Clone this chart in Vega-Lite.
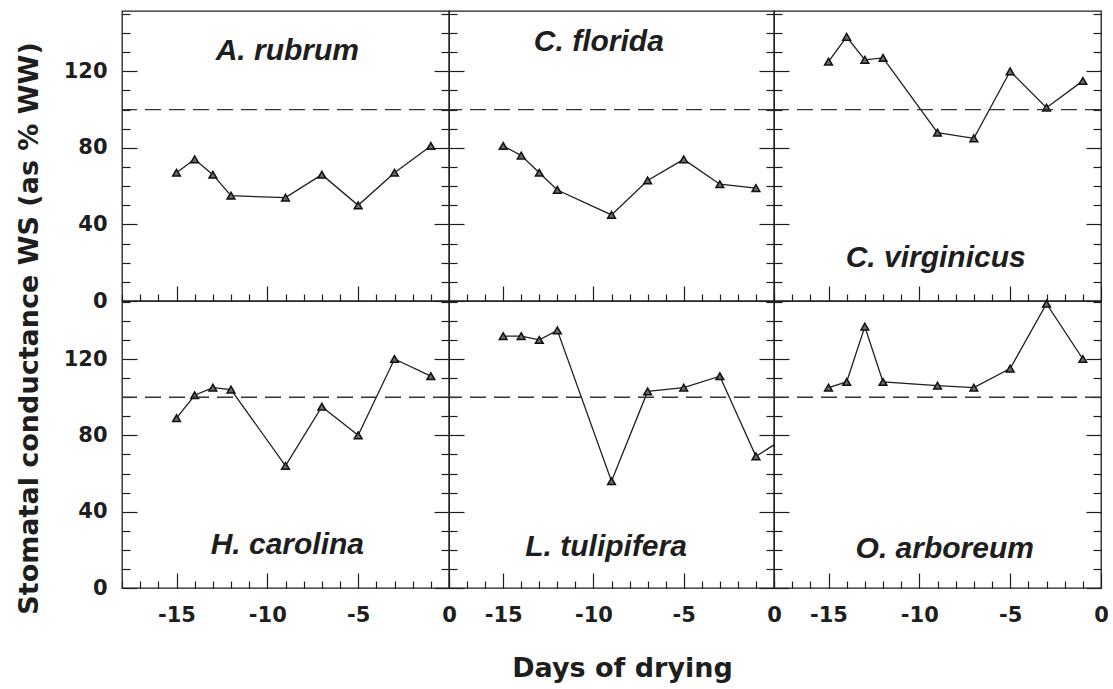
{
  "$schema": "https://vega.github.io/schema/vega-lite/v6.json",
  "padding": {"left": 14, "top": 2, "right": 8, "bottom": 6},
  "background": "white",
  "config": {
    "view": {"stroke": "#1e1e1e", "strokeWidth": 1.3},
    "axis": {
      "domain": false,
      "grid": false,
      "tickColor": "#1e1e1e",
      "tickWidth": 1.2,
      "labelFont": "DejaVu Sans",
      "labelFontSize": 21,
      "labelFontWeight": "bold",
      "labelColor": "#1e1e1e",
      "labelFlush": false,
      "labelOverlap": false,
      "titleFont": "DejaVu Sans",
      "titleFontSize": 27,
      "titleFontWeight": "bold",
      "titleColor": "#1e1e1e"
    }
  },
  "datasets": {
    "conductance": [
      {"species": "A. rubrum", "day": -15, "value": 67},
      {"species": "A. rubrum", "day": -14, "value": 74},
      {"species": "A. rubrum", "day": -13, "value": 66},
      {"species": "A. rubrum", "day": -12, "value": 55},
      {"species": "A. rubrum", "day": -9, "value": 54},
      {"species": "A. rubrum", "day": -7, "value": 66},
      {"species": "A. rubrum", "day": -5, "value": 50},
      {"species": "A. rubrum", "day": -3, "value": 67},
      {"species": "A. rubrum", "day": -1, "value": 81},
      {"species": "C. florida", "day": -15, "value": 81},
      {"species": "C. florida", "day": -14, "value": 76},
      {"species": "C. florida", "day": -13, "value": 67},
      {"species": "C. florida", "day": -12, "value": 58},
      {"species": "C. florida", "day": -9, "value": 45},
      {"species": "C. florida", "day": -7, "value": 63},
      {"species": "C. florida", "day": -5, "value": 74},
      {"species": "C. florida", "day": -3, "value": 61},
      {"species": "C. florida", "day": -1, "value": 59},
      {"species": "C. virginicus", "day": -15, "value": 125},
      {"species": "C. virginicus", "day": -14, "value": 138},
      {"species": "C. virginicus", "day": -13, "value": 126},
      {"species": "C. virginicus", "day": -12, "value": 127},
      {"species": "C. virginicus", "day": -9, "value": 88},
      {"species": "C. virginicus", "day": -7, "value": 85},
      {"species": "C. virginicus", "day": -5, "value": 120},
      {"species": "C. virginicus", "day": -3, "value": 101},
      {"species": "C. virginicus", "day": -1, "value": 115},
      {"species": "H. carolina", "day": -15, "value": 89},
      {"species": "H. carolina", "day": -14, "value": 101},
      {"species": "H. carolina", "day": -13, "value": 105},
      {"species": "H. carolina", "day": -12, "value": 104},
      {"species": "H. carolina", "day": -9, "value": 64},
      {"species": "H. carolina", "day": -7, "value": 95},
      {"species": "H. carolina", "day": -5, "value": 80},
      {"species": "H. carolina", "day": -3, "value": 120},
      {"species": "H. carolina", "day": -1, "value": 111},
      {"species": "L. tulipifera", "day": -15, "value": 132},
      {"species": "L. tulipifera", "day": -14, "value": 132},
      {"species": "L. tulipifera", "day": -13, "value": 130},
      {"species": "L. tulipifera", "day": -12, "value": 135},
      {"species": "L. tulipifera", "day": -9, "value": 56},
      {"species": "L. tulipifera", "day": -7, "value": 103},
      {"species": "L. tulipifera", "day": -5, "value": 105},
      {"species": "L. tulipifera", "day": -3, "value": 111},
      {"species": "L. tulipifera", "day": -1, "value": 69},
      {"species": "L. tulipifera", "day": 1, "value": 81},
      {"species": "O. arboreum", "day": -15, "value": 105},
      {"species": "O. arboreum", "day": -14, "value": 108},
      {"species": "O. arboreum", "day": -13, "value": 137},
      {"species": "O. arboreum", "day": -12, "value": 108},
      {"species": "O. arboreum", "day": -9, "value": 106},
      {"species": "O. arboreum", "day": -7, "value": 105},
      {"species": "O. arboreum", "day": -5, "value": 115},
      {"species": "O. arboreum", "day": -3, "value": 149},
      {"species": "O. arboreum", "day": -1, "value": 120}
    ]
  },
  "spacing": 0,
  "bounds": "flush",
  "columns": 3,
  "concat": [
    {
      "width": 327, "height": 290,
      "resolve": {"axis": {"y": "independent"}},
      "layer": [
        {
          "data": {"name": "conductance"},
          "transform": [{"filter": "datum.species === 'A. rubrum'"}],
          "mark": {"type": "line", "color": "#1e1e1e", "strokeWidth": 1.3, "clip": true},
          "encoding": {
            "x": {"field": "day", "type": "quantitative", "scale": {"domain": [-18, 0], "nice": false},
              "axis": {"orient": "bottom", "title": null, "labels": false, "values": [-18,-17,-16,-15,-14,-13,-12,-11,-10,-9,-8,-7,-6,-5,-4,-3,-2,-1,0], "tickSize": {"condition": {"test": "datum.value % 5 === 0", "value": -15}, "value": -7}}},
            "y": {"field": "value", "type": "quantitative", "scale": {"domain": [0, 151.5], "nice": false},
              "axis": {"orient": "left", "title": null, "labelPadding": 30,
                "values": [0,10,20,30,40,50,60,70,80,90,100,110,120,130,140,150],
                "labelExpr": "datum.value % 40 === 0 ? '' + datum.value : ''",
                "tickSize": {"condition": {"test": "datum.value % 40 === 0", "value": -15}, "value": -8}}}
          }
        },
        {
          "data": {"name": "conductance"},
          "transform": [{"filter": "datum.species === 'A. rubrum' && datum.day <= 0"}],
          "mark": {"type": "point", "shape": "triangle-up", "filled": true, "fill": "#6a6a6a", "stroke": "#111", "strokeWidth": 1.5, "size": 60, "opacity": 1},
          "encoding": {
            "x": {"field": "day", "type": "quantitative",
              "axis": {"orient": "bottom", "title": null, "labels": false, "values": [-18,-17,-16,-15,-14,-13,-12,-11,-10,-9,-8,-7,-6,-5,-4,-3,-2,-1,0], "tickSize": {"condition": {"test": "datum.value % 5 === 0", "value": -15}, "value": -7}}},
            "y": {"field": "value", "type": "quantitative", "axis": null}
          }
        },
        {
          "data": {"values": [{}]},
          "mark": {"type": "rule", "strokeDash": [16, 8], "color": "#333", "strokeWidth": 1.4},
          "encoding": {
            "y": {"datum": 100, "type": "quantitative",
              "axis": {"orient": "right", "title": null, "labels": false,
                "values": [0,10,20,30,40,50,60,70,80,90,100,110,120,130,140,150],
                "tickSize": {"condition": {"test": "datum.value % 40 === 0", "value": -15}, "value": -8}}}
          }
        },
        {
          "data": {"values": [{}]},
          "mark": {"type": "text", "text": "A. rubrum", "font": "Liberation Sans", "fontSize": 30, "fontWeight": "bold", "fontStyle": "italic", "align": "center", "baseline": "alphabetic", "color": "#1e1e1e"},
          "encoding": {
            "x": {"datum": -8.9, "type": "quantitative",
              "axis": {"orient": "bottom", "title": null, "labels": false, "values": [-18,-17,-16,-15,-14,-13,-12,-11,-10,-9,-8,-7,-6,-5,-4,-3,-2,-1,0], "tickSize": {"condition": {"test": "datum.value % 5 === 0", "value": -15}, "value": -7}}},
            "y": {"datum": 126, "type": "quantitative", "axis": null}
          }
        }
      ]
    },
    {
      "width": 325, "height": 290,
      "resolve": {"axis": {"y": "independent"}},
      "layer": [
        {
          "data": {"name": "conductance"},
          "transform": [{"filter": "datum.species === 'C. florida'"}],
          "mark": {"type": "line", "color": "#1e1e1e", "strokeWidth": 1.3, "clip": true},
          "encoding": {
            "x": {"field": "day", "type": "quantitative", "scale": {"domain": [-18, 0], "nice": false},
              "axis": {"orient": "bottom", "title": null, "labels": false, "values": [-18,-17,-16,-15,-14,-13,-12,-11,-10,-9,-8,-7,-6,-5,-4,-3,-2,-1,0], "tickSize": {"condition": {"test": "datum.value % 5 === 0", "value": -15}, "value": -7}}},
            "y": {"field": "value", "type": "quantitative", "scale": {"domain": [0, 151.5], "nice": false},
              "axis": {"orient": "left", "title": null, "labels": false,
                "values": [0,10,20,30,40,50,60,70,80,90,100,110,120,130,140,150],
                "tickSize": {"condition": {"test": "datum.value % 40 === 0", "value": -15}, "value": -8}}}
          }
        },
        {
          "data": {"name": "conductance"},
          "transform": [{"filter": "datum.species === 'C. florida' && datum.day <= 0"}],
          "mark": {"type": "point", "shape": "triangle-up", "filled": true, "fill": "#6a6a6a", "stroke": "#111", "strokeWidth": 1.5, "size": 60, "opacity": 1},
          "encoding": {
            "x": {"field": "day", "type": "quantitative",
              "axis": {"orient": "bottom", "title": null, "labels": false, "values": [-18,-17,-16,-15,-14,-13,-12,-11,-10,-9,-8,-7,-6,-5,-4,-3,-2,-1,0], "tickSize": {"condition": {"test": "datum.value % 5 === 0", "value": -15}, "value": -7}}},
            "y": {"field": "value", "type": "quantitative", "axis": null}
          }
        },
        {
          "data": {"values": [{}]},
          "mark": {"type": "rule", "strokeDash": [16, 8], "color": "#333", "strokeWidth": 1.4},
          "encoding": {
            "y": {"datum": 100, "type": "quantitative",
              "axis": {"orient": "right", "title": null, "labels": false,
                "values": [0,10,20,30,40,50,60,70,80,90,100,110,120,130,140,150],
                "tickSize": {"condition": {"test": "datum.value % 40 === 0", "value": -15}, "value": -8}}}
          }
        },
        {
          "data": {"values": [{}]},
          "mark": {"type": "text", "text": "C. florida", "font": "Liberation Sans", "fontSize": 30, "fontWeight": "bold", "fontStyle": "italic", "align": "center", "baseline": "alphabetic", "color": "#1e1e1e"},
          "encoding": {
            "x": {"datum": -9.7, "type": "quantitative",
              "axis": {"orient": "bottom", "title": null, "labels": false, "values": [-18,-17,-16,-15,-14,-13,-12,-11,-10,-9,-8,-7,-6,-5,-4,-3,-2,-1,0], "tickSize": {"condition": {"test": "datum.value % 5 === 0", "value": -15}, "value": -7}}},
            "y": {"datum": 130.5, "type": "quantitative", "axis": null}
          }
        }
      ]
    },
    {
      "width": 327, "height": 290,
      "resolve": {"axis": {"y": "independent"}},
      "layer": [
        {
          "data": {"name": "conductance"},
          "transform": [{"filter": "datum.species === 'C. virginicus'"}],
          "mark": {"type": "line", "color": "#1e1e1e", "strokeWidth": 1.3, "clip": true},
          "encoding": {
            "x": {"field": "day", "type": "quantitative", "scale": {"domain": [-18, 0], "nice": false},
              "axis": {"orient": "bottom", "title": null, "labels": false, "values": [-18,-17,-16,-15,-14,-13,-12,-11,-10,-9,-8,-7,-6,-5,-4,-3,-2,-1,0], "tickSize": {"condition": {"test": "datum.value % 5 === 0", "value": -15}, "value": -7}}},
            "y": {"field": "value", "type": "quantitative", "scale": {"domain": [0, 151.5], "nice": false},
              "axis": {"orient": "left", "title": null, "labels": false,
                "values": [0,10,20,30,40,50,60,70,80,90,100,110,120,130,140,150],
                "tickSize": {"condition": {"test": "datum.value % 40 === 0", "value": -15}, "value": -8}}}
          }
        },
        {
          "data": {"name": "conductance"},
          "transform": [{"filter": "datum.species === 'C. virginicus' && datum.day <= 0"}],
          "mark": {"type": "point", "shape": "triangle-up", "filled": true, "fill": "#6a6a6a", "stroke": "#111", "strokeWidth": 1.5, "size": 60, "opacity": 1},
          "encoding": {
            "x": {"field": "day", "type": "quantitative",
              "axis": {"orient": "bottom", "title": null, "labels": false, "values": [-18,-17,-16,-15,-14,-13,-12,-11,-10,-9,-8,-7,-6,-5,-4,-3,-2,-1,0], "tickSize": {"condition": {"test": "datum.value % 5 === 0", "value": -15}, "value": -7}}},
            "y": {"field": "value", "type": "quantitative", "axis": null}
          }
        },
        {
          "data": {"values": [{}]},
          "mark": {"type": "rule", "strokeDash": [16, 8], "color": "#333", "strokeWidth": 1.4},
          "encoding": {
            "y": {"datum": 100, "type": "quantitative",
              "axis": {"orient": "right", "title": null, "labels": false,
                "values": [0,10,20,30,40,50,60,70,80,90,100,110,120,130,140,150],
                "tickSize": {"condition": {"test": "datum.value % 40 === 0", "value": -15}, "value": -8}}}
          }
        },
        {
          "data": {"values": [{}]},
          "mark": {"type": "text", "text": "C. virginicus", "font": "Liberation Sans", "fontSize": 30, "fontWeight": "bold", "fontStyle": "italic", "align": "center", "baseline": "alphabetic", "color": "#1e1e1e"},
          "encoding": {
            "x": {"datum": -9.1, "type": "quantitative",
              "axis": {"orient": "bottom", "title": null, "labels": false, "values": [-18,-17,-16,-15,-14,-13,-12,-11,-10,-9,-8,-7,-6,-5,-4,-3,-2,-1,0], "tickSize": {"condition": {"test": "datum.value % 5 === 0", "value": -15}, "value": -7}}},
            "y": {"datum": 18, "type": "quantitative", "axis": null}
          }
        }
      ]
    },
    {
      "width": 327, "height": 287,
      "resolve": {"axis": {"y": "independent"}},
      "layer": [
        {
          "data": {"name": "conductance"},
          "transform": [{"filter": "datum.species === 'H. carolina'"}],
          "mark": {"type": "line", "color": "#1e1e1e", "strokeWidth": 1.3, "clip": true},
          "encoding": {
            "x": {"field": "day", "type": "quantitative", "scale": {"domain": [-18, 0], "nice": false},
              "axis": {"orient": "bottom", "title": null, "labelPadding": 31, "values": [-18,-17,-16,-15,-14,-13,-12,-11,-10,-9,-8,-7,-6,-5,-4,-3,-2,-1,0], "labelExpr": "datum.value % 5 === 0 ? '' + datum.value : ''", "tickSize": {"condition": {"test": "datum.value % 5 === 0", "value": -15}, "value": -7}}},
            "y": {"field": "value", "type": "quantitative", "scale": {"domain": [0, 150.4], "nice": false},
              "axis": {"orient": "left", "labelPadding": 30,
                "title": "Stomatal conductance WS (as % WW)",
                "titleX": -93, "titleY": 27, "titleAngle": 270, "titleAlign": "center", "titleBaseline": "middle",
                "values": [0,10,20,30,40,50,60,70,80,90,100,110,120,130,140,150],
                "labelExpr": "datum.value % 40 === 0 ? '' + datum.value : ''",
                "tickSize": {"condition": {"test": "datum.value % 40 === 0", "value": -15}, "value": -8}}}
          }
        },
        {
          "data": {"name": "conductance"},
          "transform": [{"filter": "datum.species === 'H. carolina' && datum.day <= 0"}],
          "mark": {"type": "point", "shape": "triangle-up", "filled": true, "fill": "#6a6a6a", "stroke": "#111", "strokeWidth": 1.5, "size": 60, "opacity": 1},
          "encoding": {
            "x": {"field": "day", "type": "quantitative",
              "axis": {"orient": "bottom", "title": null, "labelPadding": 31, "values": [-18,-17,-16,-15,-14,-13,-12,-11,-10,-9,-8,-7,-6,-5,-4,-3,-2,-1,0], "labelExpr": "datum.value % 5 === 0 ? '' + datum.value : ''", "tickSize": {"condition": {"test": "datum.value % 5 === 0", "value": -15}, "value": -7}}},
            "y": {"field": "value", "type": "quantitative", "axis": null}
          }
        },
        {
          "data": {"values": [{}]},
          "mark": {"type": "rule", "strokeDash": [16, 8], "color": "#333", "strokeWidth": 1.4},
          "encoding": {
            "y": {"datum": 100, "type": "quantitative",
              "axis": {"orient": "right", "title": null, "labels": false,
                "values": [0,10,20,30,40,50,60,70,80,90,100,110,120,130,140,150],
                "tickSize": {"condition": {"test": "datum.value % 40 === 0", "value": -15}, "value": -8}}}
          }
        },
        {
          "data": {"values": [{}]},
          "mark": {"type": "text", "text": "H. carolina", "font": "Liberation Sans", "fontSize": 30, "fontWeight": "bold", "fontStyle": "italic", "align": "center", "baseline": "alphabetic", "color": "#1e1e1e"},
          "encoding": {
            "x": {"datum": -8.9, "type": "quantitative",
              "axis": {"orient": "bottom", "title": null, "labelPadding": 31, "values": [-18,-17,-16,-15,-14,-13,-12,-11,-10,-9,-8,-7,-6,-5,-4,-3,-2,-1,0], "labelExpr": "datum.value % 5 === 0 ? '' + datum.value : ''", "tickSize": {"condition": {"test": "datum.value % 5 === 0", "value": -15}, "value": -7}}},
            "y": {"datum": 18, "type": "quantitative", "axis": null}
          }
        }
      ]
    },
    {
      "width": 325, "height": 287,
      "resolve": {"axis": {"y": "independent"}},
      "layer": [
        {
          "data": {"name": "conductance"},
          "transform": [{"filter": "datum.species === 'L. tulipifera'"}],
          "mark": {"type": "line", "color": "#1e1e1e", "strokeWidth": 1.3, "clip": true},
          "encoding": {
            "x": {"field": "day", "type": "quantitative", "scale": {"domain": [-18, 0], "nice": false},
              "axis": {"orient": "bottom", "labelPadding": 31, "title": "Days of drying", "titleX": 173, "titleY": 88, "titleAlign": "center", "titleBaseline": "alphabetic", "values": [-18,-17,-16,-15,-14,-13,-12,-11,-10,-9,-8,-7,-6,-5,-4,-3,-2,-1,0], "labelExpr": "datum.value % 5 === 0 ? '' + datum.value : ''", "tickSize": {"condition": {"test": "datum.value % 5 === 0", "value": -15}, "value": -7}}},
            "y": {"field": "value", "type": "quantitative", "scale": {"domain": [0, 150.4], "nice": false},
              "axis": {"orient": "left", "title": null, "labels": false,
                "values": [0,10,20,30,40,50,60,70,80,90,100,110,120,130,140,150],
                "tickSize": {"condition": {"test": "datum.value % 40 === 0", "value": -15}, "value": -8}}}
          }
        },
        {
          "data": {"name": "conductance"},
          "transform": [{"filter": "datum.species === 'L. tulipifera' && datum.day <= 0"}],
          "mark": {"type": "point", "shape": "triangle-up", "filled": true, "fill": "#6a6a6a", "stroke": "#111", "strokeWidth": 1.5, "size": 60, "opacity": 1},
          "encoding": {
            "x": {"field": "day", "type": "quantitative",
              "axis": {"orient": "bottom", "labelPadding": 31, "title": "Days of drying", "titleX": 173, "titleY": 88, "titleAlign": "center", "titleBaseline": "alphabetic", "values": [-18,-17,-16,-15,-14,-13,-12,-11,-10,-9,-8,-7,-6,-5,-4,-3,-2,-1,0], "labelExpr": "datum.value % 5 === 0 ? '' + datum.value : ''", "tickSize": {"condition": {"test": "datum.value % 5 === 0", "value": -15}, "value": -7}}},
            "y": {"field": "value", "type": "quantitative", "axis": null}
          }
        },
        {
          "data": {"values": [{}]},
          "mark": {"type": "rule", "strokeDash": [16, 8], "color": "#333", "strokeWidth": 1.4},
          "encoding": {
            "y": {"datum": 100, "type": "quantitative",
              "axis": {"orient": "right", "title": null, "labels": false,
                "values": [0,10,20,30,40,50,60,70,80,90,100,110,120,130,140,150],
                "tickSize": {"condition": {"test": "datum.value % 40 === 0", "value": -15}, "value": -8}}}
          }
        },
        {
          "data": {"values": [{}]},
          "mark": {"type": "text", "text": "L. tulipifera", "font": "Liberation Sans", "fontSize": 30, "fontWeight": "bold", "fontStyle": "italic", "align": "center", "baseline": "alphabetic", "color": "#1e1e1e"},
          "encoding": {
            "x": {"datum": -9.3, "type": "quantitative",
              "axis": {"orient": "bottom", "labelPadding": 31, "title": "Days of drying", "titleX": 173, "titleY": 88, "titleAlign": "center", "titleBaseline": "alphabetic", "values": [-18,-17,-16,-15,-14,-13,-12,-11,-10,-9,-8,-7,-6,-5,-4,-3,-2,-1,0], "labelExpr": "datum.value % 5 === 0 ? '' + datum.value : ''", "tickSize": {"condition": {"test": "datum.value % 5 === 0", "value": -15}, "value": -7}}},
            "y": {"datum": 16.6, "type": "quantitative", "axis": null}
          }
        }
      ]
    },
    {
      "width": 327, "height": 287,
      "resolve": {"axis": {"y": "independent"}},
      "layer": [
        {
          "data": {"name": "conductance"},
          "transform": [{"filter": "datum.species === 'O. arboreum'"}],
          "mark": {"type": "line", "color": "#1e1e1e", "strokeWidth": 1.3, "clip": true},
          "encoding": {
            "x": {"field": "day", "type": "quantitative", "scale": {"domain": [-18, 0], "nice": false},
              "axis": {"orient": "bottom", "title": null, "labelPadding": 31, "values": [-18,-17,-16,-15,-14,-13,-12,-11,-10,-9,-8,-7,-6,-5,-4,-3,-2,-1,0], "labelExpr": "datum.value % 5 === 0 ? '' + datum.value : ''", "tickSize": {"condition": {"test": "datum.value % 5 === 0", "value": -15}, "value": -7}}},
            "y": {"field": "value", "type": "quantitative", "scale": {"domain": [0, 150.4], "nice": false},
              "axis": {"orient": "left", "title": null, "labels": false,
                "values": [0,10,20,30,40,50,60,70,80,90,100,110,120,130,140,150],
                "tickSize": {"condition": {"test": "datum.value % 40 === 0", "value": -15}, "value": -8}}}
          }
        },
        {
          "data": {"name": "conductance"},
          "transform": [{"filter": "datum.species === 'O. arboreum' && datum.day <= 0"}],
          "mark": {"type": "point", "shape": "triangle-up", "filled": true, "fill": "#6a6a6a", "stroke": "#111", "strokeWidth": 1.5, "size": 60, "opacity": 1},
          "encoding": {
            "x": {"field": "day", "type": "quantitative",
              "axis": {"orient": "bottom", "title": null, "labelPadding": 31, "values": [-18,-17,-16,-15,-14,-13,-12,-11,-10,-9,-8,-7,-6,-5,-4,-3,-2,-1,0], "labelExpr": "datum.value % 5 === 0 ? '' + datum.value : ''", "tickSize": {"condition": {"test": "datum.value % 5 === 0", "value": -15}, "value": -7}}},
            "y": {"field": "value", "type": "quantitative", "axis": null}
          }
        },
        {
          "data": {"values": [{}]},
          "mark": {"type": "rule", "strokeDash": [16, 8], "color": "#333", "strokeWidth": 1.4},
          "encoding": {
            "y": {"datum": 100, "type": "quantitative",
              "axis": {"orient": "right", "title": null, "labels": false,
                "values": [0,10,20,30,40,50,60,70,80,90,100,110,120,130,140,150],
                "tickSize": {"condition": {"test": "datum.value % 40 === 0", "value": -15}, "value": -8}}}
          }
        },
        {
          "data": {"values": [{}]},
          "mark": {"type": "text", "text": "O. arboreum", "font": "Liberation Sans", "fontSize": 30, "fontWeight": "bold", "fontStyle": "italic", "align": "center", "baseline": "alphabetic", "color": "#1e1e1e"},
          "encoding": {
            "x": {"datum": -8.6, "type": "quantitative",
              "axis": {"orient": "bottom", "title": null, "labelPadding": 31, "values": [-18,-17,-16,-15,-14,-13,-12,-11,-10,-9,-8,-7,-6,-5,-4,-3,-2,-1,0], "labelExpr": "datum.value % 5 === 0 ? '' + datum.value : ''", "tickSize": {"condition": {"test": "datum.value % 5 === 0", "value": -15}, "value": -7}}},
            "y": {"datum": 15.7, "type": "quantitative", "axis": null}
          }
        }
      ]
    }
  ]
}
